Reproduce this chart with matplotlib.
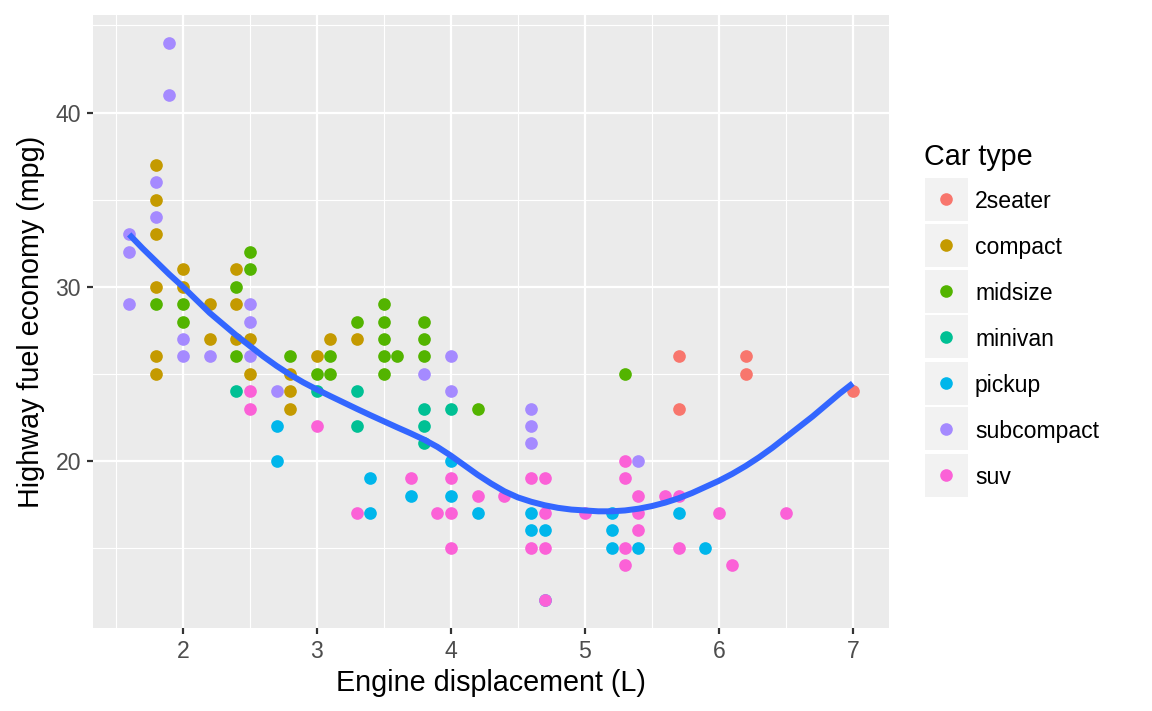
import numpy as np
import matplotlib.pyplot as plt
from matplotlib.patches import Rectangle
from matplotlib.lines import Line2D

plt.rcParams['font.family'] = ['Liberation Sans', 'DejaVu Sans']

# unique (displ, hwy) points, per car class
classes = ["2seater", "compact", "midsize", "minivan", "pickup", "subcompact", "suv"]
colors = ["#F8766D", "#C49A00", "#53B400", "#00C094", "#00B6EB", "#A58AFF", "#FB61D7"]

displ_2seater = [5.7, 5.7, 6.2, 6.2, 7.0]
hwy_2seater = [26, 23, 26, 25, 24]

displ_compact = [1.8, 1.8, 1.8, 1.8, 1.8, 1.8, 2.0, 2.0, 2.2, 2.2, 2.4, 2.4, 2.4,
                 2.5, 2.5, 2.8, 2.8, 2.8, 3.0, 3.1, 3.3]
hwy_compact = [37, 35, 33, 30, 26, 25, 31, 30, 29, 27, 31, 29, 27,
               27, 25, 25, 24, 23, 26, 27, 27]

displ_midsize = [1.8, 2.0, 2.0, 2.4, 2.4, 2.5, 2.5, 2.8, 3.0, 3.1, 3.1, 3.3, 3.5,
                 3.5, 3.5, 3.5, 3.5, 3.6, 3.8, 3.8, 3.8, 4.2, 5.3]
hwy_midsize = [29, 29, 28, 30, 26, 32, 31, 26, 25, 26, 25, 28, 29,
               28, 27, 26, 25, 26, 28, 27, 26, 23, 25]

displ_minivan = [2.4, 3.0, 3.3, 3.3, 3.8, 3.8, 3.8, 4.0]
hwy_minivan = [24, 24, 24, 22, 23, 22, 21, 23]

displ_pickup = [2.7, 2.7, 3.4, 3.4, 3.7, 4.0, 4.0, 4.2, 4.6, 4.6, 4.7, 4.7, 5.2,
                5.2, 5.2, 5.4, 5.7, 5.9]
hwy_pickup = [22, 20, 19, 17, 18, 20, 18, 17, 17, 16, 16, 12, 17,
              16, 15, 15, 17, 15]

displ_subcompact = [1.6, 1.6, 1.6, 1.8, 1.8, 1.9, 1.9, 2.0, 2.0, 2.2, 2.5, 2.5, 2.5,
                    2.7, 3.8, 4.0, 4.0, 4.6, 4.6, 4.6, 5.4]
hwy_subcompact = [33, 32, 29, 36, 34, 44, 41, 27, 26, 26, 29, 28, 26,
                  24, 25, 26, 24, 23, 22, 21, 20]

displ_suv = [2.5, 2.5, 3.0, 3.3, 3.7, 3.9, 4.0, 4.0, 4.0, 4.2, 4.4, 4.6, 4.6, 4.7,
             4.7, 4.7, 4.7, 5.0, 5.3, 5.3, 5.3, 5.3, 5.4, 5.4, 5.4, 5.6, 5.7, 5.7,
             6.0, 6.1, 6.5]
hwy_suv = [24, 23, 22, 17, 19, 17, 19, 17, 15, 18, 18, 19, 15, 19,
           17, 15, 12, 17, 20, 19, 15, 14, 18, 17, 16, 18, 18, 15,
           17, 14, 17]

displ_by_class = [displ_2seater, displ_compact, displ_midsize, displ_minivan,
                  displ_pickup, displ_subcompact, displ_suv]
hwy_by_class = [hwy_2seater, hwy_compact, hwy_midsize, hwy_minivan,
                hwy_pickup, hwy_subcompact, hwy_suv]

# smooth curve, every 0.1 L
smooth_x = [1.6, 1.7, 1.8, 1.9, 2.0, 2.1, 2.2, 2.3, 2.4, 2.5, 2.6, 2.7, 2.8, 2.9,
            3.0, 3.1, 3.2, 3.3, 3.4, 3.5, 3.6, 3.7, 3.8, 3.9, 4.0, 4.1, 4.2, 4.3,
            4.4, 4.5, 4.6, 4.7, 4.8, 4.9, 5.0, 5.1, 5.2, 5.3, 5.4, 5.5, 5.6, 5.7,
            5.8, 5.9, 6.0, 6.1, 6.2, 6.3, 6.4, 6.5, 6.6, 6.7, 6.8, 6.9, 7.0]
smooth_y = [33.0, 32.2, 31.45, 30.7, 30.0, 29.25, 28.5, 27.85, 27.2, 26.6, 26.0,
            25.45, 24.95, 24.5, 24.1, 23.72, 23.35, 22.98, 22.62, 22.27, 21.92,
            21.58, 21.22, 20.8, 20.3, 19.75, 19.2, 18.7, 18.25, 17.9, 17.65, 17.45,
            17.3, 17.2, 17.15, 17.1, 17.1, 17.15, 17.25, 17.4, 17.6, 17.85, 18.15,
            18.5, 18.85, 19.25, 19.7, 20.2, 20.75, 21.35, 21.95, 22.55, 23.2,
            23.85, 24.45]

fig = plt.figure(figsize=(8, 4.9375), dpi=144)
ax = fig.add_axes([93 / 1152, 83 / 711, 796 / 1152, 613 / 711])
ax.set_facecolor("#EBEBEB")
for s in ax.spines.values():
    s.set_visible(False)

ax.set_xlim(1.33, 7.27)
ax.set_ylim(10.4, 45.6)
ax.set_xticks([2, 3, 4, 5, 6, 7])
ax.set_yticks([20, 30, 40])
ax.set_xticks([1.5, 2.5, 3.5, 4.5, 5.5, 6.5], minor=True)
ax.set_yticks([15, 25, 35, 45], minor=True)
ax.grid(which="major", color="white", linewidth=1.1)
ax.grid(which="minor", color="white", linewidth=0.55)
ax.set_axisbelow(True)
ax.tick_params(which="major", length=3, width=1.1, color="#333333",
               labelcolor="#4D4D4D", labelsize=11.5, pad=3)
ax.tick_params(which="minor", length=0)

for xs, ys, c in zip(displ_by_class, hwy_by_class, colors):
    ax.scatter(xs, ys, s=40, color=c, linewidths=0, zorder=3)

ax.plot(smooth_x, smooth_y, color="#3366FF", linewidth=3, zorder=4,
        solid_capstyle="butt", solid_joinstyle="round")

ax.set_xlabel("Engine displacement (L)", fontsize=14.4, labelpad=3)
ax.set_ylabel("Highway fuel economy (mpg)", fontsize=14.4, labelpad=5)

# legend drawn by hand: grey key boxes with a dot
W, H = 1152, 711
fig.text(924 / W, 1 - 165 / H, "Car type", fontsize=14.4, ha="left", va="baseline")
for i, (name, c) in enumerate(zip(classes, colors)):
    cy = 199 + i * 46
    fig.add_artist(Rectangle((925 / W, 1 - (cy + 21.5) / H), 43 / W, 43 / H,
                             transform=fig.transFigure, facecolor="#F2F2F2",
                             edgecolor="none"))
    fig.add_artist(Line2D([946 / W], [1 - cy / H], marker="o", markersize=6.3,
                          color=c, markeredgewidth=0, transform=fig.transFigure))
    fig.text(975 / W, 1 - cy / H, name, fontsize=11.5, ha="left", va="center_baseline")

fig.savefig("out.png", dpi=144)
